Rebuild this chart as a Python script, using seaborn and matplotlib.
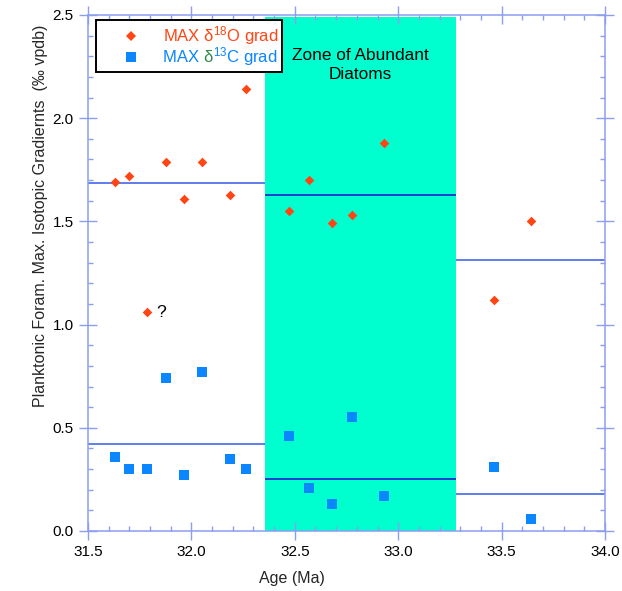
import matplotlib
matplotlib.use("Agg")
import matplotlib.pyplot as plt
import seaborn as sns
import pandas as pd
from matplotlib.lines import Line2D
from matplotlib.ticker import MultipleLocator
from matplotlib.offsetbox import AnchoredOffsetbox, HPacker, VPacker, TextArea, DrawingArea

# ---------------- data ----------------
ages = [31.63, 31.70, 31.785, 31.875, 31.965, 32.05, 32.185, 32.265,
        32.47, 32.57, 32.68, 32.775, 32.93, 33.465, 33.64]
d18o_grad = [1.69, 1.72, 1.06, 1.79, 1.61, 1.79, 1.63, 2.14,
             1.55, 1.70, 1.49, 1.53, 1.88, 1.12, 1.50]
d13c_grad = [0.36, 0.30, 0.30, 0.74, 0.27, 0.77, 0.35, 0.30,
             0.46, 0.21, 0.13, 0.55, 0.17, 0.31, 0.06]
zone_edges = [31.5, 32.355, 33.28, 34.0]
o18_zone_means = [1.685, 1.63, 1.315]
c13_zone_means = [0.42, 0.25, 0.18]
diatom_zone = (32.355, 33.28)
question_point = (31.785, 1.06)

# ---------------- style ----------------
sns.set_style("white")
plt.rcParams['font.family'] = ['Liberation Sans', 'DejaVu Sans']
plt.rcParams['mathtext.default'] = 'regular'

RED = "#ff4513"
BLUE = "#0a86ff"
GREEN_TXT = "#2e8b50"
ZONE = "#00ffcf"
AXC = "#8c9ef0"
LINE_LIGHT = "#5f7cee"
LINE_DARK = "#1f3fd0"

fig = plt.figure(figsize=(6.22, 5.91), dpi=100)
ax = fig.add_axes([88 / 622, 60 / 591, 517 / 622, 516 / 591])

ax.axvspan(*diatom_zone, ymin=0, ymax=0.996, color=ZONE, lw=0, zorder=0)

df = pd.DataFrame({
    "age": ages + ages,
    "grad": d18o_grad + d13c_grad,
    "series": ["O18"] * len(ages) + ["C13"] * len(ages),
})

sns.scatterplot(data=df[df.series == "O18"], x="age", y="grad", marker="D",
                color=RED, s=24, linewidth=0, ax=ax, zorder=3, legend=False)
sns.scatterplot(data=df[df.series == "C13"], x="age", y="grad", marker="s",
                color=BLUE, s=44, linewidth=0, ax=ax, zorder=3, legend=False)

for i in range(3):
    col = LINE_DARK if i == 1 else LINE_LIGHT
    ax.hlines(o18_zone_means[i], zone_edges[i], zone_edges[i + 1], color=col, lw=1.4, zorder=2)
    ax.hlines(c13_zone_means[i], zone_edges[i], zone_edges[i + 1], color=col, lw=1.4, zorder=2)

ax.text(question_point[0] + 0.045, question_point[1], "?", fontsize=12.5,
        ha="left", va="center", color="black")

ax.text(sum(diatom_zone) / 2, 2.34, "Zone of Abundant\nDiatoms", fontsize=12.4,
        ha="center", va="top", linespacing=1.3, color="black")

# ---------------- axes ----------------
ax.set_xlim(31.5, 34.0)
ax.set_ylim(0, 2.5)
ax.xaxis.set_major_locator(MultipleLocator(0.5))
ax.xaxis.set_minor_locator(MultipleLocator(0.1))
ax.yaxis.set_major_locator(MultipleLocator(0.5))
ax.yaxis.set_minor_locator(MultipleLocator(0.1))
ax.xaxis.set_major_formatter(matplotlib.ticker.FormatStrFormatter("%.1f"))
ax.yaxis.set_major_formatter(matplotlib.ticker.FormatStrFormatter("%.1f"))

for sp in ax.spines.values():
    sp.set_color(AXC)
    sp.set_linewidth(1.1)
    sp.set_visible(True)

ax.tick_params(which="major", direction="inout", length=12.5, width=1, color=AXC,
               labelsize=11, labelcolor="black", pad=4,
               top=True, right=True, bottom=True, left=True)
ax.tick_params(which="minor", direction="in", length=3.5, width=1, color=AXC,
               top=True, right=True, bottom=True, left=True)

ax.set_xlabel("Age (Ma)", fontsize=11.5)
ax.set_ylabel("Planktonic Foram. Max. Isotopic Gradiernts  (‰ vpdb)", fontsize=11.5)
ax.xaxis.set_label_coords(0.395, -0.078)
ax.yaxis.set_label_coords(-0.078, 0.61)

# ---------------- legend ----------------
def marker_box(marker, color, ms):
    da = DrawingArea(45, 12, 0, 0)
    da.add_artist(Line2D([22], [6], marker=marker, color=color, ms=ms,
                         ls="none", mew=0))
    return da

tp = dict(fontsize=12)
row1 = HPacker(children=[
    marker_box("D", RED, 5.2),
    TextArea("MAX δ$^{18}$O grad", textprops=dict(color=RED, **tp)),
], sep=0, align="center")
row2 = HPacker(children=[
    marker_box("s", BLUE, 6.6),
    HPacker(children=[
        TextArea("MAX ", textprops=dict(color=BLUE, **tp)),
        TextArea("δ", textprops=dict(color=GREEN_TXT, **tp)),
        TextArea("$^{13}$C grad", textprops=dict(color=BLUE, **tp)),
    ], sep=0, align="baseline"),
], sep=0, align="center")
box = VPacker(children=[row1, row2], sep=-1.5, pad=0, align="left")
anch = AnchoredOffsetbox(loc="upper left", child=box, pad=0.25, borderpad=0,
                         frameon=True, bbox_to_anchor=(0.0155, 0.99),
                         bbox_transform=ax.transAxes, prop=dict(size=12))
anch.patch.set_edgecolor("black")
anch.patch.set_linewidth(1.4)
anch.patch.set_boxstyle("square", pad=0)
anch.zorder = 5
ax.add_artist(anch)

fig.savefig("out.png", dpi=100)
